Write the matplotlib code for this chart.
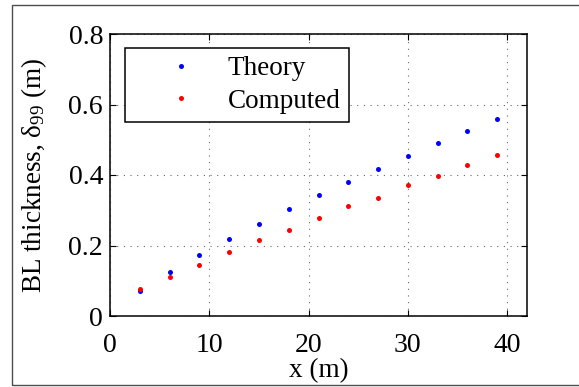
import numpy as np
import matplotlib.pyplot as plt
from matplotlib.patches import Rectangle

x = [3, 6, 9, 12, 15, 18, 21, 24, 27, 30, 33, 36, 39]
theory = [0.071, 0.125, 0.173, 0.219, 0.261, 0.303, 0.343, 0.381, 0.418, 0.454, 0.490, 0.524, 0.560]
computed = [0.076, 0.112, 0.146, 0.182, 0.217, 0.245, 0.277, 0.311, 0.335, 0.372, 0.397, 0.429, 0.457]

plt.rcParams['font.family'] = ['Liberation Serif', 'DejaVu Serif']
plt.rcParams['mathtext.fontset'] = 'stix'

fig = plt.figure(figsize=(5.79, 3.87), dpi=100)
ax = fig.add_axes([110/579, 1-316/387, 417/579, 282/387])

ax.plot(x, theory, 'o', color='b', markersize=3.6, markeredgewidth=0, label='Theory')
ax.plot(x, computed, 'o', color='r', markersize=3.6, markeredgewidth=0, label='Computed')

ax.set_xlim(0, 42)
ax.set_ylim(0, 0.8)
ax.set_xticks([0, 10, 20, 30, 40])
ax.set_yticks([0, 0.2, 0.4, 0.6, 0.8])
ax.set_yticklabels(['0', '0.2', '0.4', '0.6', '0.8'])
ax.tick_params(direction='in', top=True, right=True, labelsize=20, length=4, width=0.8)
ax.tick_params(axis='x', pad=12)
ax.tick_params(axis='y', pad=5)
ax.grid(True, linestyle=(0, (1, 5)), color='k', linewidth=0.8, alpha=0.6)
for s in ax.spines.values():
    s.set_linewidth(1.1)

ax.set_xlabel('x (m)', fontsize=19.5, labelpad=0)
ax.set_ylabel(r'BL thickness, $\mathregular{\delta_{99}}$ (m)', fontsize=19.5, labelpad=14)

leg = ax.legend(loc='upper left', bbox_to_anchor=(15/417, 1-14/282), borderaxespad=0,
                fontsize=19.5, frameon=True, fancybox=False, edgecolor='k', framealpha=1,
                handletextpad=0.0, handlelength=3.5, borderpad=0.3, labelspacing=0.28,
                markerscale=1.0)
leg.get_frame().set_linewidth(1.1)

fig.patches.append(Rectangle((12/579, 2/387), 1.0, 1-7/387, transform=fig.transFigure,
                             fill=False, edgecolor='0.3', linewidth=1.0))

fig.savefig('out.png', dpi=100)
